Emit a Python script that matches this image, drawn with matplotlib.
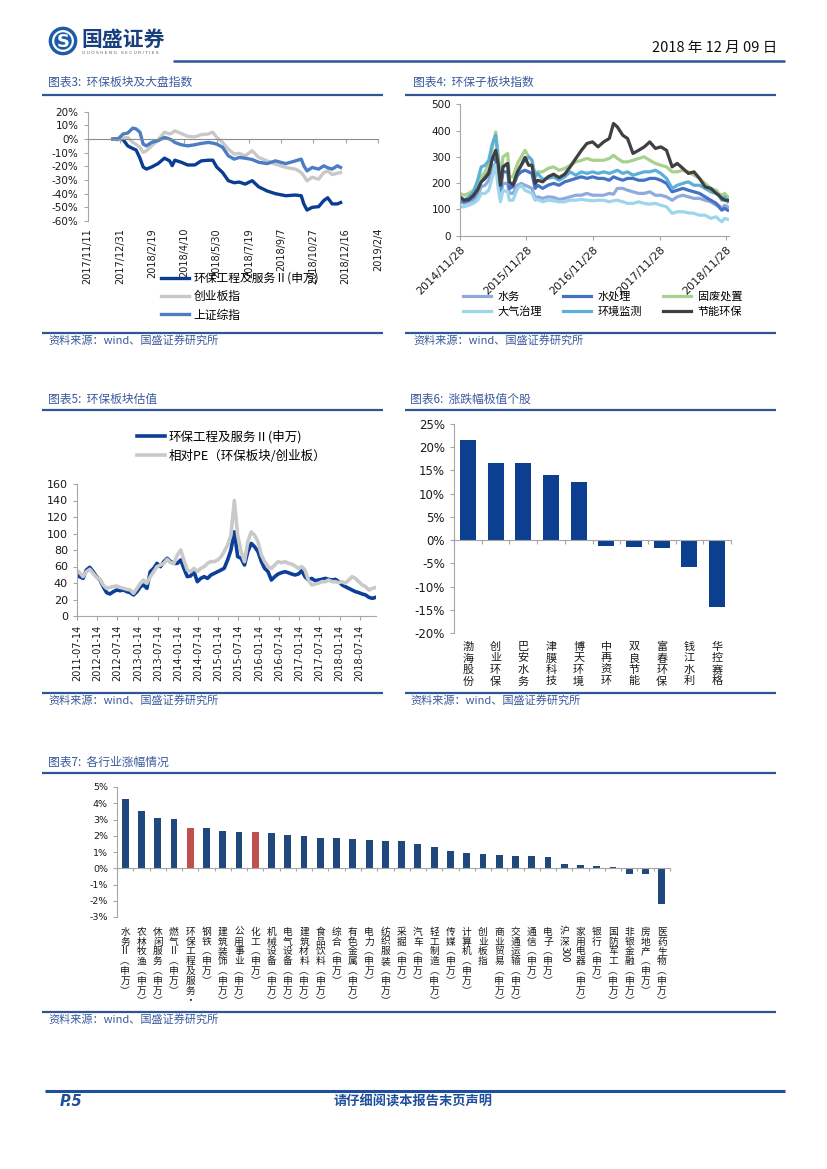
import re
import numpy as np
import pandas as pd
import matplotlib
matplotlib.use("Agg")
import matplotlib.pyplot as plt
import matplotlib.dates as mdates
from matplotlib.lines import Line2D
from matplotlib.patches import Circle

plt.rcParams['font.family'] = ['DejaVu Sans', 'Noto Sans CJK SC']
CJK = ['Noto Sans CJK SC', 'DejaVu Sans']

W, H = 827, 1169
RULE = '#2F5597'
CAP = '#3A5A9C'
AXC = '#A6A6A6'
TXT = '#1a1a1a'

# ---------------- data ----------------
# chart 3: sector vs market index, cumulative change (%)
idx_dates = ['2017-12-20', '2017-12-28', '2018-01-05', '2018-01-12', '2018-01-20', '2018-01-25',
             '2018-01-31', '2018-02-05', '2018-02-10', '2018-02-18', '2018-02-28', '2018-03-10',
             '2018-03-18', '2018-03-22', '2018-03-26', '2018-04-05', '2018-04-15', '2018-04-26',
             '2018-05-06', '2018-05-17', '2018-05-24', '2018-05-30', '2018-06-08', '2018-06-17',
             '2018-06-26', '2018-07-04', '2018-07-13', '2018-07-24', '2018-08-03', '2018-08-16',
             '2018-08-29', '2018-09-14', '2018-09-29', '2018-10-08', '2018-10-12', '2018-10-17',
             '2018-10-25', '2018-11-04', '2018-11-12', '2018-11-18', '2018-11-25', '2018-12-03',
             '2018-12-08']
idx_hb = [0, 0, -0.5, -5, -7, -8, -14, -20.5, -22, -20.5, -18, -14, -16, -19.5, -15.5, -17, -19,
          -19, -16, -15.5, -15.5, -20.5, -24.5, -30.5, -32, -31.5, -33, -30.5, -35, -38, -40,
          -41.5, -41, -41.5, -47.5, -52, -50, -49.5, -45, -43, -47.5, -47.5, -46.5]
idx_cyb = [0, -0.7, 0.7, 1.2, -2.5, -4, -6, -9.8, -8.6, -5, -0.7, 5, 3.7, 4.5, 6, 4, 2, 1.5,
           3.2, 3.7, 5, 1.2, -2.5, -7.4, -11, -10.5, -12.3, -8.6, -13.5, -16, -18.4, -20.8, -22,
           -24.5, -27, -30.6, -28, -29.4, -24.5, -23.3, -26, -25, -24.5]
idx_sz = [0, 0, 3.7, 4.4, 8, 7.4, 5, -3.7, -5, -2.5, -1.2, 1.2, 0, -1, -2.5, -4.2, -5, -4.2,
          -3.2, -2.5, -3, -3.7, -6, -12.3, -14.7, -13.5, -14, -15, -17, -18, -16, -18, -16,
          -14.7, -19.6, -23.3, -20.8, -22, -19.6, -21, -22, -19.6, -20.8]
idx_labels = ['环保工程及服务Ⅱ(申万)', '创业板指', '上证综指']

# chart 4: sub-sector indices
sub_dates = ['2014-11-28', '2014-12-20', '2015-01-15', '2015-02-10', '2015-03-05', '2015-03-25',
             '2015-04-15', '2015-05-05', '2015-05-25', '2015-06-12', '2015-06-25', '2015-07-08',
             '2015-07-22', '2015-08-17', '2015-08-26', '2015-09-15', '2015-10-10', '2015-10-30',
             '2015-11-20', '2015-12-10', '2015-12-28', '2016-01-15', '2016-01-28', '2016-02-25',
             '2016-03-25', '2016-04-25', '2016-05-25', '2016-06-25', '2016-07-25', '2016-08-25',
             '2016-09-25', '2016-10-25', '2016-11-25', '2016-12-25', '2017-01-25', '2017-02-25',
             '2017-03-20', '2017-04-10', '2017-05-10', '2017-06-05', '2017-07-05', '2017-08-05',
             '2017-09-05', '2017-10-05', '2017-11-05', '2017-12-05', '2018-01-05', '2018-02-05',
             '2018-03-05', '2018-04-05', '2018-05-05', '2018-06-05', '2018-07-05', '2018-08-05',
             '2018-09-05', '2018-10-05', '2018-10-19', '2018-11-05', '2018-11-20', '2018-12-07']
sub_sw = [129, 123, 129, 135, 154, 186, 192, 211, 262, 275, 230, 154, 199, 199, 161, 161, 192, 199,
          192, 186, 180, 142, 148, 142, 148, 146, 138, 142, 148, 154, 154, 161, 154, 154, 154, 161,
          158, 180, 180, 173, 167, 161, 161, 167, 154, 154, 148, 135, 148, 154, 148, 142, 142, 135,
          129, 116, 116, 104, 116, 110]
sub_scl = [135, 129, 135, 148, 173, 211, 224, 243, 300, 287, 262, 173, 243, 243, 180, 186, 230, 243,
           249, 243, 237, 180, 192, 180, 192, 199, 192, 205, 211, 218, 224, 218, 224, 218, 218, 211,
           224, 218, 211, 218, 218, 211, 211, 218, 218, 211, 199, 167, 173, 180, 173, 167, 161, 148,
           135, 123, 110, 97, 104, 97]
sub_gf = [161, 154, 161, 173, 199, 224, 243, 275, 338, 395, 313, 211, 300, 313, 224, 224, 275, 300,
          325, 300, 287, 224, 243, 243, 256, 262, 249, 256, 268, 281, 287, 294, 287, 287, 287, 294,
          306, 294, 281, 281, 287, 294, 300, 287, 275, 268, 262, 243, 243, 249, 243, 230, 218, 199,
          180, 173, 161, 154, 161, 148]
sub_dq = [110, 110, 116, 123, 135, 161, 161, 173, 224, 270, 186, 129, 173, 167, 135, 135, 180, 192,
          173, 167, 161, 135, 138, 129, 135, 133, 129, 129, 135, 135, 138, 135, 133, 135, 135, 129,
          133, 135, 129, 123, 123, 129, 123, 120, 123, 116, 110, 85, 91, 91, 87, 85, 78, 78,
          66, 72, 62, 53, 66, 62]
sub_jc = [142, 135, 148, 167, 211, 262, 268, 287, 351, 382, 294, 186, 262, 275, 199, 192, 243, 268,
          287, 300, 287, 224, 237, 215, 218, 224, 211, 224, 243, 230, 243, 237, 243, 237, 243, 237,
          243, 249, 237, 243, 230, 237, 243, 243, 249, 237, 218, 180, 192, 199, 205, 192, 192, 180,
          167, 161, 154, 135, 148, 129]
sub_jn = [148, 135, 138, 154, 176, 205, 218, 237, 294, 325, 275, 192, 262, 275, 205, 192, 243, 268,
          298, 268, 268, 199, 211, 205, 224, 234, 221, 234, 262, 294, 325, 351, 357, 338, 357, 370,
          427, 414, 382, 370, 313, 325, 338, 357, 332, 338, 325, 262, 275, 256, 237, 243, 218, 186,
          180, 161, 154, 142, 135, 135]
sub_labels = ['水务', '水处理', '固废处置', '大气治理', '环境监测', '节能环保']
sub_colors = ['#8FAADC', '#4472C4', '#A9D18E', '#9DD5EA', '#5BAFD8', '#404040']

# chart 5: valuation (monthly)
pe_start = '2011-07-07'
pe_hb = [49.7, 47.7, 45.6, 55.8, 59, 53.7, 47.7, 43.6, 35.6, 28.3,
         26.7, 29.5, 31.5, 30.7, 31.5, 29.5, 28.3, 25.5, 29.5, 35.6,
         37.6, 33.5, 53.7, 57.8, 63.8, 59.8, 65.9, 69.9, 65.9, 63.8,
         63.8, 67.9, 57.8, 47.7, 48.5, 53.7, 41.6, 45.6, 47.7, 45.6,
         49.7, 51.7, 53.7, 55.8, 57.8, 67.9, 80, 102, 72, 70,
         61.8, 78, 88, 84, 78, 65.9, 57.8, 53.7, 43.6, 47.7,
         50.9, 52.5, 53.7, 52.5, 50.9, 49.7, 50.9, 55, 47.7, 43.6,
         45.6, 42.8, 43.6, 44.4, 45.6, 44.4, 43.6, 44.4, 41.6, 37.6,
         35.6, 33.5, 31.5, 29.5, 28.3, 26.7, 25.5, 22.6, 21.4, 22.6]
pe_rel = [55.8, 52.5, 47.7, 53.7, 56.6, 51.7, 46.9, 44.4, 37.6, 33.5,
          34.7, 35.6, 36.4, 34.7, 33.5, 32.3, 31.5, 27.5, 33.5, 39.6,
          43.6, 39.6, 47.7, 53.7, 59.8, 61.8, 63.8, 68.7, 64.6, 63.8,
          73.9, 80, 67.9, 55.8, 53.7, 57.8, 53.7, 57.8, 59.8, 63.8,
          65.9, 65.9, 67.9, 71.9, 78, 86, 98, 140, 98, 78,
          65.9, 90, 102, 98, 90, 73.9, 65.9, 59.8, 57.8, 61.8,
          65.9, 64.6, 65.9, 63.8, 63, 60.6, 57.8, 59.8, 55.8, 43.6,
          37.6, 38.8, 39.6, 41.6, 41.6, 43.6, 41.6, 41.6, 40.4, 41.6,
          39.6, 43.6, 47.7, 45.6, 41.6, 37.6, 35.6, 31.5, 33.5, 34.7]
pe_labels = ['环保工程及服务Ⅱ(申万)', '相对PE（环保板块/创业板）']

# chart 6: extreme movers
stocks = ['渤海股份', '创业环保', '巴安水务', '津膜科技', '博天环境',
          '中再资环', '双良节能', '富春环保', '钱江水利', '华控赛格']
stock_chg = [21.6, 16.7, 16.5, 14.1, 12.6, -1.3, -1.4, -1.65, -5.75, -14.3]

# chart 7: industries
ind_names = ['水务Ⅱ(申万)', '农林牧渔(申万)', '休闲服务(申万)', '燃气Ⅱ(申万)', '环保工程及服务·',
             '钢铁(申万)', '建筑装饰(申万)', '公用事业(申万)', '化工(申万)', '机械设备(申万)',
             '电气设备(申万)', '建筑材料(申万)', '食品饮料(申万)', '综合(申万)', '有色金属(申万)',
             '电力(申万)', '纺织服装(申万)', '采掘(申万)', '汽车(申万)', '轻工制造(申万)',
             '传媒(申万)', '计算机(申万)', '创业板指', '商业贸易(申万)', '交通运输(申万)',
             '通信(申万)', '电子(申万)', '沪深300', '家用电器(申万)', '银行(申万)',
             '国防军工(申万)', '非银金融(申万)', '房地产(申万)', '医药生物(申万)']
ind_chg = [4.25, 3.53, 3.12, 3.06, 2.46, 2.46, 2.28, 2.22, 2.22, 2.15,
           2.05, 2.01, 1.87, 1.85, 1.81, 1.74, 1.68, 1.66, 1.48, 1.29,
           1.08, 0.92, 0.88, 0.82, 0.74, 0.74, 0.68, 0.27, 0.20, 0.12,
           0.08, -0.37, -0.37, -2.2]
ind_highlight = ['环保工程及服务·', '化工(申万)']


# ---------------- helpers ----------------
fig = plt.figure(figsize=(W / 100, H / 100), dpi=100)


def add_ax(x0, y0, x1, y1):
    return fig.add_axes([x0 / W, 1 - y1 / H, (x1 - x0) / W, (y1 - y0) / H])


def rule(x0, x1, y, lw=1.6, color=RULE):
    fig.add_artist(Line2D([x0 / W, x1 / W], [1 - y / H, 1 - y / H], transform=fig.transFigure,
                          color=color, lw=lw, solid_capstyle='butt'))


def ftext(x, y, s, **kw):
    kw.setdefault('family', CJK)
    fig.text(x / W, 1 - y / H, s, **kw)


def style_axes(ax, fs):
    for s in ['top', 'right']:
        ax.spines[s].set_visible(False)
    for s in ['left', 'bottom']:
        ax.spines[s].set_color(AXC)
        ax.spines[s].set_linewidth(0.8)
    ax.tick_params(colors=AXC, labelcolor=TXT, labelsize=fs, width=0.8, length=3)
    ax.patch.set_alpha(0)


def vertical_label(ax, x, label, top_pt, step_pt, fs):
    off = top_pt
    for tok in re.findall(r'[0-9]+|.', label):
        if tok.isdigit():
            ax.annotate(tok, xy=(x, 0), xycoords=('data', 'axes fraction'), xytext=(0, -off),
                        textcoords='offset points', rotation=-90, ha='center', va='top',
                        fontsize=fs, color=TXT, family=CJK)
            off += len(tok) * fs * 0.6 + 1
        else:
            ch = {'(': '︵', ')': '︶'}.get(tok, tok)
            ax.annotate(ch, xy=(x, 0), xycoords=('data', 'axes fraction'), xytext=(0, -off),
                        textcoords='offset points', ha='center', va='top',
                        fontsize=fs, color=TXT, family=CJK)
            off += step_pt


def caption(x, y, s):
    ftext(x, y, s, fontsize=8.5, color=CAP, va='center', style='italic')


def source(x, y):
    ftext(x, y, '资料来源：wind、国盛证券研究所', fontsize=8, color=CAP, va='center', style='italic')


# ---------------- header ----------------
lax = add_ax(48, 26, 78, 56)
lax.set_xlim(-1.1, 1.1)
lax.set_ylim(-1.1, 1.1)
lax.set_aspect('equal')
lax.axis('off')
lax.add_patch(Circle((0, 0), 1.0, color='#1C5BA8'))
lax.add_patch(Circle((0, 0), 0.72, fill=False, ec='white', lw=1.6))
lax.text(0, -0.05, 'S', color='white', fontsize=13, fontweight='bold', ha='center', va='center',
         family='DejaVu Sans')
ftext(81, 39, '国盛证券', fontsize=15, fontweight='bold', color='#1A3F7F', va='center')
ftext(82, 53.5, 'G U O S H E N G   S E C U R I T I E S', fontsize=3.2, color='#666666',
      va='center', family='DejaVu Sans')
ftext(777, 48, '2018 年 12 月 09 日', fontsize=10.5, color='#111111', ha='right', va='center')
rule(173, 785, 61, lw=1.8)

# ---------------- chart 3 ----------------
caption(48, 82, '图表3:  环保板块及大盘指数')
rule(42, 383, 95)
ax3 = add_ax(87.7, 111.7, 378, 221)
d3 = pd.to_datetime(idx_dates)
ax3.plot(d3, idx_hb, color='#0B3C94', lw=2.4, label=idx_labels[0])
ax3.plot(d3, idx_cyb, color='#C8C8C8', lw=2.4, label=idx_labels[1])
ax3.plot(d3, idx_sz, color='#4B7DC4', lw=2.4, label=idx_labels[2])
ax3.set_xlim(pd.Timestamp('2017-11-11'), pd.Timestamp('2019-02-04'))
ax3.set_ylim(-60, 20)
style_axes(ax3, 7.5)
ax3.spines['bottom'].set_position(('data', 0))
ax3.spines['bottom'].set_color('#8C8C8C')
ticks3 = pd.date_range('2017-11-11', '2019-02-04', freq='50D')
ax3.set_xticks(ticks3)
ax3.set_xticklabels([])
for t in ticks3:
    ax3.annotate(f'{t.year}/{t.month}/{t.day}', xy=(mdates.date2num(t), 0),
                 xycoords=('data', 'axes fraction'), xytext=(0, -5), textcoords='offset points',
                 rotation=90, ha='center', va='top', fontsize=7, color=TXT)
ax3.set_yticks(range(-60, 21, 10))
ax3.set_yticklabels([f'{v}%' for v in range(-60, 21, 10)])
ax3.legend(loc='upper left', bbox_to_anchor=(161 / W, 1 - 272 / H), bbox_transform=fig.transFigure,
           frameon=False, prop={'family': CJK, 'size': 8.5}, handlelength=2.4, handletextpad=0.35,
           labelspacing=0.45, borderpad=0, borderaxespad=0)
rule(42, 383, 333)
source(48, 340)

# ---------------- chart 4 ----------------
caption(413, 82, '图表4:  环保子板块指数')
rule(405, 776, 95)
ax4 = add_ax(460, 104.3, 728.6, 235.7)
d4 = pd.to_datetime(sub_dates)
for vals, lab, col in zip([sub_sw, sub_scl, sub_gf, sub_dq, sub_jc, sub_jn], sub_labels, sub_colors):
    ax4.plot(d4, vals, color=col, lw=2.3, label=lab)
ax4.set_xlim(pd.Timestamp('2014-11-28'), pd.Timestamp('2018-12-12'))
ax4.set_ylim(0, 500)
style_axes(ax4, 7.5)
ticks4 = pd.to_datetime(['2014-11-28', '2015-11-28', '2016-11-28', '2017-11-28', '2018-11-28'])
ax4.set_xticks(ticks4)
ax4.set_xticklabels([f'{t.year}/{t.month}/{t.day}' for t in ticks4], rotation=45, ha='right',
                    rotation_mode='anchor', fontsize=8)
ax4.set_yticks(range(0, 501, 100))
h4, l4 = ax4.get_legend_handles_labels()
order = [0, 3, 1, 4, 2, 5]
fig.legend([h4[i] for i in order], [l4[i] for i in order], ncol=3, loc='upper left',
           bbox_to_anchor=(463 / W, 1 - 291 / H), frameon=False, prop={'family': CJK, 'size': 8},
           handlelength=2.5, handletextpad=0.6, columnspacing=1.9, labelspacing=0.45,
           borderpad=0, borderaxespad=0)
rule(405, 776, 333)
source(413, 340)

# ---------------- chart 5 ----------------
caption(48, 399, '图表5:  环保板块估值')
rule(42, 383, 410)
ax5 = add_ax(77, 484, 376, 616)
d5 = [pd.Timestamp(pe_start) + pd.DateOffset(months=i) for i in range(len(pe_hb))]
ax5.plot(d5, pe_hb, color='#0B3F99', lw=2.6, label=pe_labels[0])
ax5.plot(d5, pe_rel, color='#C9C9C9', lw=2.6, label=pe_labels[1])
ax5.set_xlim(pd.Timestamp('2011-07-14'), pd.Timestamp('2018-12-10'))
ax5.set_ylim(0, 160)
style_axes(ax5, 8)
ticks5 = [pd.Timestamp('2011-07-14') + pd.DateOffset(months=6 * i) for i in range(15)]
ax5.set_xticks(ticks5)
ax5.set_xticklabels([t.strftime('%Y-%m-%d') for t in ticks5], rotation=90, fontsize=7)
ax5.set_yticks(range(0, 161, 20))
ax5.legend(loc='upper left', bbox_to_anchor=(137 / W, 1 - 430 / H), bbox_transform=fig.transFigure,
           frameon=False, prop={'family': CJK, 'size': 9}, handlelength=2.2, handletextpad=0.3,
           labelspacing=0.5, borderpad=0, borderaxespad=0)
rule(42, 383, 693)
source(48, 700)

# ---------------- chart 6 ----------------
caption(410, 399, '图表6:  涨跌幅极值个股')
rule(405, 776, 410)
ax6 = add_ax(454, 424, 731, 633)
x6 = np.arange(len(stocks))
ax6.bar(x6, stock_chg, width=0.58, color='#0D3F91')
ax6.set_xlim(-0.5, len(stocks) - 0.5)
ax6.set_ylim(-20, 25)
style_axes(ax6, 8.5)
ax6.spines['bottom'].set_position(('data', 0))
ax6.set_xticks(np.arange(-0.5, len(stocks), 1))
ax6.set_xticklabels([])
ax6.set_yticks(range(-20, 26, 5))
ax6.set_yticklabels([f'{v}%' for v in range(-20, 26, 5)])
for i, name in enumerate(stocks):
    vertical_label(ax6, i, name, 6.5, 8.2, 8)
rule(405, 776, 693)
source(410, 700)

# ---------------- chart 7 ----------------
caption(48, 762, '图表7:  各行业涨幅情况')
rule(42, 776, 773)
ax7 = add_ax(117, 787, 670, 917)
x7 = np.arange(len(ind_names))
cols7 = ['#C0504D' if n in ind_highlight else '#1F497D' for n in ind_names]
ax7.bar(x7, ind_chg, width=0.42, color=cols7)
ax7.set_xlim(-0.5, len(ind_names) - 0.5)
ax7.set_ylim(-3, 5)
style_axes(ax7, 6.8)
ax7.spines['bottom'].set_position(('data', 0))
ax7.set_xticks(np.arange(-0.5, len(ind_names), 1))
ax7.set_xticklabels([])
ax7.tick_params(axis='x', length=2.5)
ax7.set_yticks(range(-3, 6, 1))
ax7.set_yticklabels([f'{v}%' for v in range(-3, 6, 1)])
for i, name in enumerate(ind_names):
    vertical_label(ax7, i, name, 7, 7.1, 7)
rule(42, 776, 1012)
source(48, 1019)

# ---------------- footer ----------------
rule(45, 785, 1091, lw=2.2, color='#1F4E9C')
ftext(60, 1102, 'P.5', fontsize=10.5, fontweight='bold', style='italic', color='#1F4E9C',
      va='center', family='DejaVu Sans')
ftext(413, 1102, '请仔细阅读本报告末页声明', fontsize=9.5, fontweight='bold', color='#1F4E9C',
      ha='center', va='center')

fig.savefig('out.png', dpi=100)
